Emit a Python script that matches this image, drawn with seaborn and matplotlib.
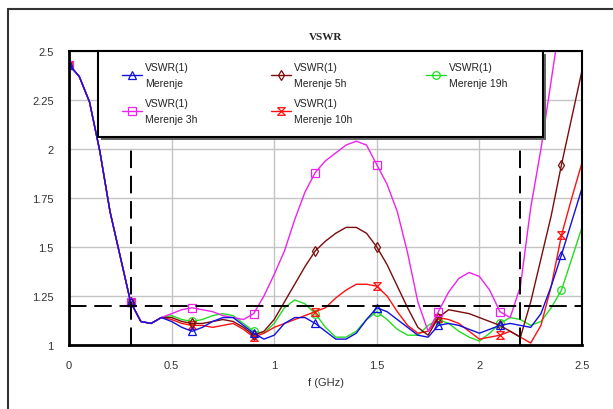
import matplotlib
matplotlib.use("Agg")
import matplotlib.pyplot as plt
from matplotlib.lines import Line2D
from matplotlib.patches import Rectangle
import seaborn as sns

# frekvencije (GHz), korak 0.05
freq = [0.0, 0.05, 0.1, 0.15, 0.2, 0.25, 0.3, 0.35, 0.4, 0.45,
        0.5, 0.55, 0.6, 0.65, 0.7, 0.75, 0.8, 0.85, 0.9, 0.95,
        1.0, 1.05, 1.1, 1.15, 1.2, 1.25, 1.3, 1.35, 1.4, 1.45,
        1.5, 1.55, 1.6, 1.65, 1.7, 1.75, 1.8, 1.85, 1.9, 1.95,
        2.0, 2.05, 2.1, 2.15, 2.2, 2.25, 2.3, 2.35, 2.4, 2.45, 2.5]

# zajednicki pocetak svih merenja (0 - 0.45 GHz)
start = [2.43, 2.37, 2.24, 1.99, 1.68, 1.45, 1.22, 1.12, 1.11, 1.14]

merenje = start + [1.12, 1.09, 1.07, 1.09, 1.12, 1.14, 1.14, 1.10, 1.06, 1.03,
                   1.05, 1.11, 1.14, 1.14, 1.11, 1.07, 1.03, 1.03, 1.06, 1.13,
                   1.19, 1.17, 1.13, 1.09, 1.05, 1.04, 1.10, 1.11, 1.10, 1.08,
                   1.06, 1.08, 1.10, 1.11, 1.10, 1.09, 1.16, 1.30, 1.46, 1.63,
                   1.80]
merenje_3h = start + [1.16, 1.18, 1.19, 1.18, 1.17, 1.15, 1.14, 1.13, 1.16, 1.25,
                      1.36, 1.48, 1.64, 1.78, 1.88, 1.94, 1.98, 2.02, 2.04, 2.02,
                      1.92, 1.82, 1.68, 1.47, 1.22, 1.07, 1.17, 1.27, 1.34, 1.37,
                      1.35, 1.28, 1.17, 1.14, 1.30, 1.70, 2.00, 2.35, 2.70, 3.00,
                      3.30]
merenje_5h = start + [1.14, 1.12, 1.11, 1.11, 1.12, 1.13, 1.12, 1.09, 1.05, 1.07,
                      1.13, 1.22, 1.31, 1.40, 1.48, 1.53, 1.57, 1.60, 1.60, 1.57,
                      1.50, 1.41, 1.30, 1.19, 1.09, 1.05, 1.14, 1.18, 1.17, 1.16,
                      1.14, 1.12, 1.10, 1.07, 1.04, 1.22, 1.44, 1.66, 1.92, 2.16,
                      2.40]
merenje_10h = start + [1.13, 1.11, 1.10, 1.10, 1.09, 1.10, 1.11, 1.08, 1.04, 1.06,
                       1.09, 1.11, 1.13, 1.15, 1.17, 1.19, 1.24, 1.28, 1.31, 1.31,
                       1.30, 1.25, 1.17, 1.10, 1.06, 1.07, 1.14, 1.13, 1.11, 1.07,
                       1.03, 1.04, 1.05, 1.07, 1.04, 1.01, 1.10, 1.30, 1.56, 1.75,
                       1.93]
merenje_19h = start + [1.15, 1.13, 1.12, 1.13, 1.15, 1.16, 1.15, 1.11, 1.07, 1.06,
                       1.11, 1.19, 1.23, 1.21, 1.16, 1.09, 1.04, 1.04, 1.07, 1.13,
                       1.17, 1.13, 1.08, 1.05, 1.05, 1.10, 1.13, 1.11, 1.07, 1.04,
                       1.02, 1.06, 1.11, 1.14, 1.13, 1.10, 1.12, 1.19, 1.28, 1.44,
                       1.60]

labels = ["VSWR(1)\nMerenje", "VSWR(1)\nMerenje 3h", "VSWR(1)\nMerenje 5h",
          "VSWR(1)\nMerenje 10h", "VSWR(1)\nMerenje 19h"]

# granice opsega i dozvoljeni VSWR
band_edges = [0.3, 2.2]
band_top = 2.0
vswr_limit = 1.2

xticks = [0, 0.5, 1, 1.5, 2, 2.5]
xticklabels = ["0", "0.5", "1", "1.5", "2", "2.5"]
yticks = [1, 1.25, 1.5, 1.75, 2, 2.25, 2.5]
yticklabels = ["1", "1.25", "1.5", "1.75", "2", "2.25", "2.5"]

sns.set_theme(style="white")
plt.rcParams["font.family"] = ["Liberation Sans", "DejaVu Sans"]

W, H = 613, 410
fig = plt.figure(figsize=(W / 100, H / 100), dpi=100)
ax = fig.add_axes([69 / W, 1 - 346 / H, 513 / W, 294 / H])

hourglass = [(-1, 1), (1, 1), (-1, -1), (1, -1), (-1, 1)]
series = [
    (merenje_19h, labels[4], "#22dd22", "o"),
    (merenje_10h, labels[3], "#ff1010", hourglass),
    (merenje_5h, labels[2], "#7a0c0c", "d"),
    (merenje_3h, labels[1], "#ee22ee", "s"),
    (merenje, labels[0], "#1010e0", "^"),
]
for vals, lbl, col, mk in series:
    sns.lineplot(x=freq, y=vals, ax=ax, color=col, marker=mk, markevery=6,
                 markersize=5.5, markerfacecolor="none", markeredgecolor=col,
                 markeredgewidth=0.9, linewidth=1.0, label=lbl)

for x in band_edges:
    ax.plot([x, x], [1, band_top], color="black", lw=1.4, dashes=(9, 4), zorder=3)
ax.axhline(vswr_limit, color="black", lw=1.4, dashes=(9, 4), zorder=3)

ax.set_xlim(0, 2.5)
ax.set_ylim(1, 2.5)
ax.set_xticks(xticks, xticklabels)
ax.set_yticks(yticks, yticklabels)
ax.tick_params(length=0, pad=11, labelsize=8, labelcolor="#333333")
ax.grid(True, color="#c4c4c4", lw=1)
ax.set_xlabel("f (GHz)", fontsize=8, color="#333333", labelpad=5)
ax.set_ylabel("")
for name, s in ax.spines.items():
    s.set_color("black")
    s.set_linewidth(2 if name in ("left", "bottom") else 1.5)
    s.set_zorder(4)

# okvir legende sa senkom
shadow = Rectangle((101 / W, 1 - 141 / H), 445 / W, 86 / H, transform=fig.transFigure,
                   fc="#666666", ec="none", zorder=5, clip_on=False)
box = Rectangle((98 / W, 1 - 138 / H), 445 / W, 86 / H, transform=fig.transFigure,
                fc="white", ec="black", lw=1.5, zorder=5.1, clip_on=False)
ax.add_patch(shadow)
ax.add_patch(box)

handles, lbls = ax.get_legend_handles_labels()
order = [lbls.index(l) for l in labels]
leg = ax.legend([handles[i] for i in order], [lbls[i] for i in order], ncol=3,
                loc="upper left", bbox_to_anchor=(117 / W, 1 - 58 / H, 396 / W, 0),
                bbox_transform=fig.transFigure, mode="expand", frameon=False,
                borderpad=0, handlelength=1.9, handletextpad=0.3, labelspacing=1.0,
                fontsize=7.5)
leg.set_zorder(6)
for t in leg.get_texts():
    t.set_linespacing(1.7)
    t.set_color("#222222")

fig.text(325.5 / W, 1 - 37 / H, "VSWR", family="Liberation Serif", weight="bold",
         size=8, ha="center", va="center")

# spoljni okvir
fig.add_artist(Line2D([8 / W, 8 / W], [0, 1 - 10 / H], transform=fig.transFigure,
                      color="#333333", lw=1.5))
fig.add_artist(Line2D([8 / W, 1], [1 - 10 / H, 1 - 10 / H], transform=fig.transFigure,
                      color="#333333", lw=1.5))

fig.savefig("out.png", dpi=100)
